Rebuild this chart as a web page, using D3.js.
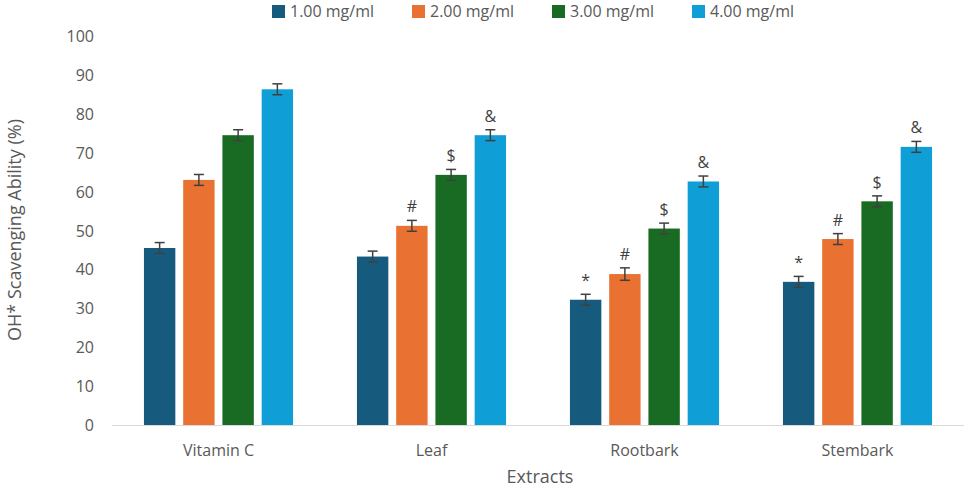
<!DOCTYPE html>
<html><head><meta charset="utf-8">
<script src="https://cdn.jsdelivr.net/npm/d3@7"></script>
<style>body{margin:0;background:#fff;font-family:"Open Sans",sans-serif;}</style>
</head><body><svg id="c" width="965" height="487"></svg>
<script>
// chart data
const categories = ['Vitamin C', 'Leaf', 'Rootbark', 'Stembark'];
const seriesNames = ['1.00 mg/ml', '2.00 mg/ml', '3.00 mg/ml', '4.00 mg/ml'];
const colors = ['#165a7d', '#e97132', '#196b24', '#0f9ed5'];
const values = [
  [45.5, 63.0, 74.5, 86.3],
  [43.3, 51.2, 64.3, 74.5],
  [32.2, 38.8, 50.5, 62.6],
  [36.8, 47.8, 57.5, 71.5]
];
const errors = [
  [1.4, 1.4, 1.4, 1.4],
  [1.4, 1.4, 1.4, 1.4],
  [1.4, 1.6, 1.4, 1.4],
  [1.4, 1.4, 1.4, 1.4]
];
const marks = [
  ['', '', '', ''],
  ['', '#', '$', '&'],
  ['*', '#', '$', '&'],
  ['*', '#', '$', '&']
];
const yTicks = d3.range(0, 101, 10);

const svg = d3.select('#c');
const x = d3.scaleBand().domain(categories).range([112, 964]).paddingInner(0.3).paddingOuter(0.15);
const xs = d3.scaleBand().domain(d3.range(4)).range([0, x.bandwidth()]).paddingInner(0.2);
const y = d3.scaleLinear().domain([0, 100]).range([425, 36]);

// y axis labels
svg.append('g').selectAll('text').data(yTicks).join('text')
  .attr('x', 94).attr('y', d => y(d) + 6).attr('text-anchor', 'end')
  .attr('font-size', 16).attr('fill', '#595959').text(d => d);

// baseline
svg.append('line').attr('x1', 112).attr('x2', 964).attr('y1', 425.5).attr('y2', 425.5)
  .attr('stroke', '#d9d9d9');

// bars
const g = svg.append('g').selectAll('g').data(categories).join('g')
  .attr('transform', d => `translate(${x(d)},0)`);
g.each(function(cat, ci) {
  const grp = d3.select(this);
  values[ci].forEach((v, si) => {
    const bx = xs(si), bw = xs.bandwidth(), cx = bx + bw / 2, e = errors[ci][si];
    grp.append('rect').attr('x', bx).attr('y', y(v)).attr('width', bw)
      .attr('height', y(0) - y(v)).attr('fill', colors[si]);
    grp.append('line').attr('x1', cx).attr('x2', cx).attr('y1', y(v + e)).attr('y2', y(v - e))
      .attr('stroke', '#404040').attr('stroke-width', 1.5);
    [v + e, v - e].forEach(t => grp.append('line').attr('x1', cx - 5).attr('x2', cx + 5)
      .attr('y1', y(t)).attr('y2', y(t)).attr('stroke', '#404040').attr('stroke-width', 1.5));
    if (marks[ci][si]) grp.append('text').attr('x', cx).attr('y', y(v + e) - 8)
      .attr('text-anchor', 'middle').attr('font-size', 16).attr('fill', '#404040').text(marks[ci][si]);
  });
});

// category labels
svg.append('g').selectAll('text').data(categories).join('text')
  .attr('x', d => x(d) + x.bandwidth() / 2).attr('y', 456).attr('text-anchor', 'middle')
  .attr('font-size', 16).attr('fill', '#595959').text(d => d);

// axis titles
svg.append('text').attr('x', 540).attr('y', 483).attr('text-anchor', 'middle')
  .attr('font-size', 18).attr('fill', '#595959').text('Extracts');
svg.append('text').attr('transform', 'translate(21,230) rotate(-90)').attr('text-anchor', 'middle')
  .attr('font-size', 18).attr('fill', '#595959').text('OH* Scavenging Ability (%)');

// legend
const lg = svg.append('g').selectAll('g').data(seriesNames).join('g')
  .attr('transform', (d, i) => `translate(${272 + i * 140},5)`);
lg.append('rect').attr('width', 13).attr('height', 13).attr('fill', (d, i) => colors[i]);
lg.append('text').attr('x', 18).attr('y', 12).attr('font-size', 16).attr('fill', '#595959').text(d => d);
</script></body></html>
